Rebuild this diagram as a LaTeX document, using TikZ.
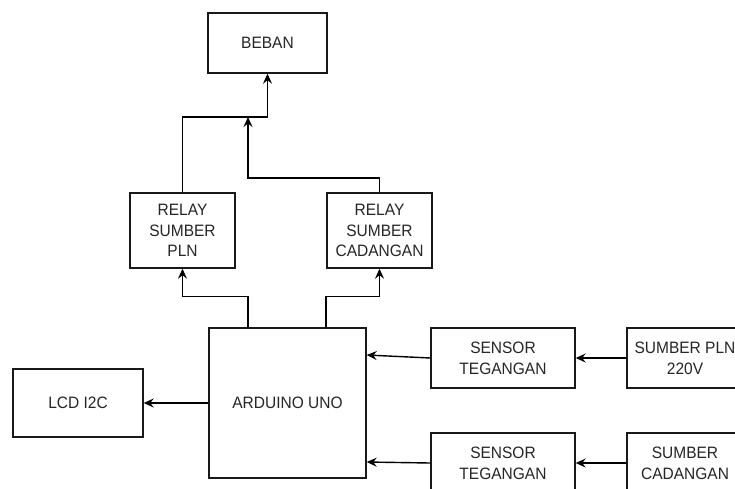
\documentclass[tikz,border=0pt]{standalone}
\usepackage{fontspec}
\setmainfont{Liberation Sans}[FakeStretch=0.94]
\usetikzlibrary{arrows.meta}
\tikzset{
  blk/.style={draw=black!90, line width=1.4pt, rectangle, align=center, inner sep=0pt,
    font=\fontsize{16.5}{20.7}\selectfont, text=black!85},
  arr/.style={draw=black, line width=1.4pt, -{Stealth[length=10pt,width=9pt,inset=3.5pt]}}
}
\begin{document}
\begin{tikzpicture}[x=1pt,y=-1pt]
\useasboundingbox (0,0) rectangle (735,488);
\clip (0,0) rectangle (735,488);
\fill[white] (0,0) rectangle (735,488);
\node[blk, minimum width=119pt, minimum height=60pt] (beban) at (267.5,43) {BEBAN};
\node[blk, minimum width=105pt, minimum height=75pt] (rpln) at (182.5,230.5) {RELAY\\SUMBER\\PLN};
\node[blk, minimum width=105pt, minimum height=75pt] (rcad) at (379.5,230.5) {RELAY\\SUMBER\\CADANGAN};
\node[blk, minimum width=157pt, minimum height=150pt] (ard) at (287.5,403) {ARDUINO UNO};
\node[blk, minimum width=130pt, minimum height=68pt] (lcd) at (78,403) {LCD I2C};
\node[blk, minimum width=144pt, minimum height=60pt] (s1) at (503,358) {SENSOR\\TEGANGAN};
\node[blk, minimum width=144pt, minimum height=60pt] (s2) at (503,463) {SENSOR\\TEGANGAN};
\node[blk, minimum width=116pt, minimum height=60pt] (sp) at (685,358) {SUMBER PLN\\220V};
\node[blk, minimum width=116pt, minimum height=60pt] (sc) at (685,463) {SUMBER\\CADANGAN};
\coordinate (j1) at (267.5,117);
\coordinate (j2) at (248,117);
\coordinate (k) at (248,178);
\draw[arr] (rpln.north) |- (j1) -- (beban.south);
\draw[arr] (rcad.north) |- (k) -- (j2);
\draw[arr] ([xshift=-39.5pt]ard.north) -- ++(0,-31) -| (rpln.south);
\draw[arr] ([xshift=38.5pt]ard.north) -- ++(0,-31) -| (rcad.south);
\draw[arr] (ard.west) -- (lcd.east);
\draw[arr] (s1.west) -- ([yshift=48pt]ard.east);
\draw[arr] (s2.west) -- ([yshift=-59pt]ard.east);
\draw[arr] (sp.west) -- (s1.east);
\draw[arr] (sc.west) -- (s2.east);
\end{tikzpicture}
\end{document}
